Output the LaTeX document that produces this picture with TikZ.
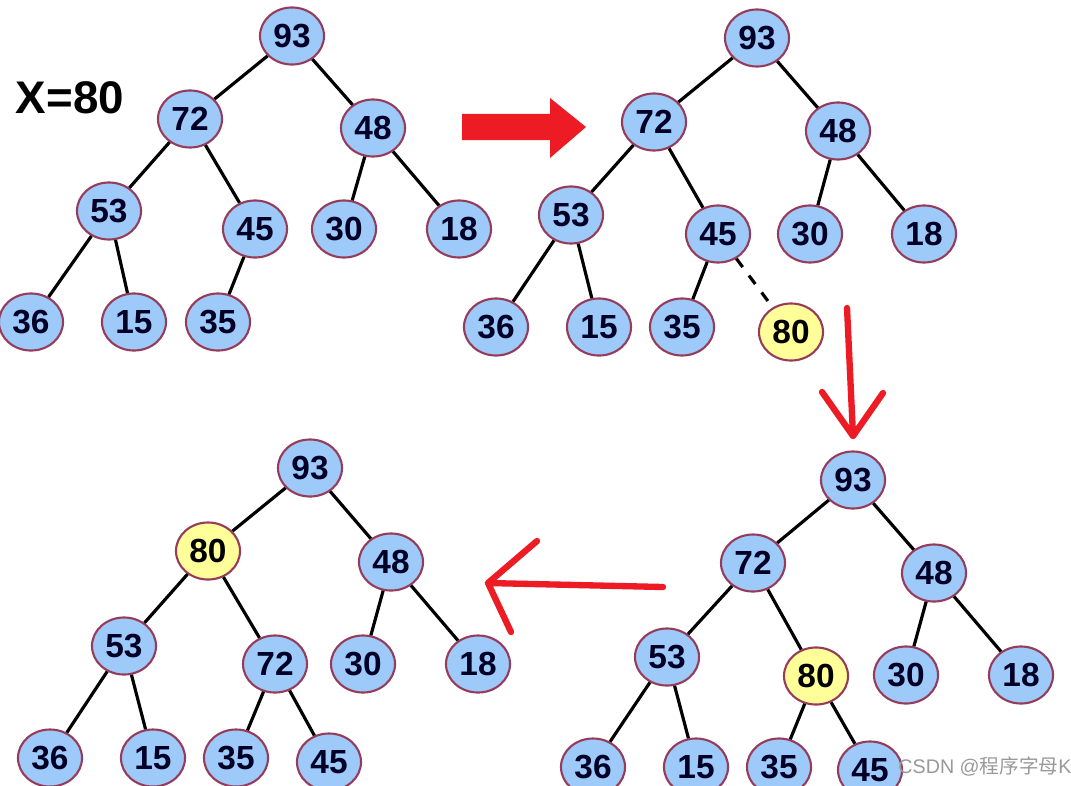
\documentclass[tikz,border=0pt]{standalone}
\usepackage{fontspec}
\setmainfont{Liberation Sans}
\newfontfamily\cjk{Noto Sans CJK SC}
\usetikzlibrary{shapes.geometric}
\definecolor{nodeblue}{RGB}{158,202,250}
\definecolor{nodeyellow}{RGB}{255,255,153}
\definecolor{rimred}{RGB}{150,60,90}
\definecolor{markred}{RGB}{237,28,36}
\tikzset{
  bn/.style={ellipse,draw=rimred,line width=0.6pt,fill=nodeblue,
    minimum width=0.64cm,minimum height=0.57cm,inner sep=0pt,
    font=\fontsize{9.5}{10}\selectfont\bfseries,text=black!85!blue},
  yn/.style={bn,fill=nodeyellow,text=black},
  edge/.style={line width=0.9pt},
  pen/.style={draw=markred,line width=1.8pt,line cap=round,line join=round}
}
\begin{document}
\begin{tikzpicture}[x=0.01cm,y=-0.01cm]
  \useasboundingbox[fill=white] (0,0) rectangle (1071,785);
  % heap before insertion
  \node[font=\fontsize{13}{14}\selectfont\bfseries] (xlab) at (70,98) {X=80};
  \node[bn] (a93) at (292,36) {93};
  \node[bn] (a72) at (190,119) {72};
  \node[bn] (a48) at (373,128) {48};
  \node[bn] (a53) at (109,211) {53};
  \node[bn] (a45) at (255,229) {45};
  \node[bn] (a30) at (344,229) {30};
  \node[bn] (a18) at (459,229) {18};
  \node[bn] (a36) at (31,322) {36};
  \node[bn] (a15) at (134,322) {15};
  \node[bn] (a35) at (218,322) {35};
  \begin{scope}[edge]
    \draw (a93)--(a72) (a93)--(a48) (a72)--(a53) (a72)--(a45);
    \draw (a48)--(a30) (a48)--(a18) (a53)--(a36) (a53)--(a15) (a45)--(a35);
  \end{scope}
  % thick arrow
  \fill[markred] (462,114) -- (550,114) -- (550,98) -- (586,127)
    -- (550,158) -- (550,140) -- (462,140) -- cycle;
  % new leaf added
  \node[bn] (b93) at (757,38) {93};
  \node[bn] (b72) at (654,122) {72};
  \node[bn] (b48) at (838,131) {48};
  \node[bn] (b53) at (571,215) {53};
  \node[bn] (b45) at (718,234) {45};
  \node[bn] (b30) at (810,234) {30};
  \node[bn] (b18) at (924,234) {18};
  \node[bn] (b36) at (496,327) {36};
  \node[bn] (b15) at (599,327) {15};
  \node[bn] (b35) at (682,327) {35};
  \node[yn] (b80) at (791,332) {80};
  \begin{scope}[edge]
    \draw (b93)--(b72) (b93)--(b48) (b72)--(b53) (b72)--(b45);
    \draw (b48)--(b30) (b48)--(b18) (b53)--(b36) (b53)--(b15) (b45)--(b35);
    \draw[dashed] (b45)--(b80);
  \end{scope}
  % hand drawn arrow down
  \coordinate (dtop) at (847,308);
  \coordinate (dtip) at (853,436);
  \draw[pen] (dtop)--(dtip) (822,392)--(dtip)--(883,393);
  % after first swap
  \node[bn] (c93) at (853,480) {93};
  \node[bn] (c72) at (753,563) {72};
  \node[bn] (c48) at (934,573) {48};
  \node[bn] (c53) at (667,657) {53};
  \node[yn] (c80) at (816,676) {80};
  \node[bn] (c30) at (906,675) {30};
  \node[bn] (c18) at (1021,675) {18};
  \node[bn] (c36) at (593,767) {36};
  \node[bn] (c15) at (696,767) {15};
  \node[bn] (c35) at (779,767) {35};
  \node[bn] (c45) at (870,770) {45};
  \begin{scope}[edge]
    \draw (c93)--(c72) (c93)--(c48) (c72)--(c53) (c72)--(c80);
    \draw (c48)--(c30) (c48)--(c18) (c53)--(c36) (c53)--(c15);
    \draw (c80)--(c35) (c80)--(c45);
  \end{scope}
  % hand drawn arrow left
  \coordinate (lend) at (663,587);
  \coordinate (ltip) at (488,583);
  \draw[pen] (lend)--(ltip) (537,541)--(ltip)--(511,632);
  % after second swap
  \node[bn] (d93) at (310,468) {93};
  \node[yn] (d80) at (208,551) {80};
  \node[bn] (d48) at (391,562) {48};
  \node[bn] (d53) at (124,646) {53};
  \node[bn] (d72) at (275,664) {72};
  \node[bn] (d30) at (363,664) {30};
  \node[bn] (d18) at (478,664) {18};
  \node[bn] (d36) at (50,758) {36};
  \node[bn] (d15) at (153,758) {15};
  \node[bn] (d35) at (236,758) {35};
  \node[bn] (d45) at (329,762) {45};
  \begin{scope}[edge]
    \draw (d93)--(d80) (d93)--(d48) (d80)--(d53) (d80)--(d72);
    \draw (d48)--(d30) (d48)--(d18) (d53)--(d36) (d53)--(d15);
    \draw (d72)--(d35) (d72)--(d45);
  \end{scope}
  \node[text=black!40,font=\fontsize{5.6}{6}\selectfont,inner sep=0pt] (mark) at (985,767) {CSDN @{\cjk 程序字母}K};
\end{tikzpicture}
\end{document}
